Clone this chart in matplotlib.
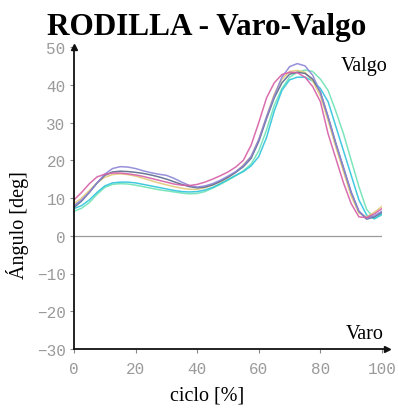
import matplotlib
matplotlib.use("Agg")
import matplotlib.pyplot as plt

cycle = [0, 2.5, 5, 7.5, 10, 12.5, 15, 17.5, 20, 22.5, 25, 27.5, 30, 32.5, 35, 37.5, 40,
         42.5, 45, 47.5, 50, 52.5, 55, 57.5, 60, 62.5, 65, 67.5, 70, 72.5, 75, 77.5, 80,
         82.5, 85, 87.5, 90, 92.5, 95, 97.5, 100]

magenta = [9.5, 11.5, 13.8, 15.6, 16.3, 16.6, 16.6, 16.4, 16.1, 15.7, 15.2, 14.7, 14.2, 13.7,
           13.4, 13.3, 13.6, 14.2, 15.0, 15.9, 16.9, 18.2, 20.0, 24.0, 30.0, 36.5, 40.5, 42.7,
           43.3, 43.2, 42.0, 39.5, 35.5, 27.0, 20.5, 14.0, 8.5, 5.0, 4.8, 5.8, 7.2]
purple = [8.0, 9.5, 11.5, 14.0, 16.3, 17.8, 18.3, 18.2, 17.8, 17.2, 16.7, 16.3, 16.0, 15.2,
          14.2, 13.3, 12.9, 13.2, 13.8, 14.7, 15.8, 17.0, 18.6, 21.0, 25.5, 31.5, 37.0, 42.0,
          44.8, 45.6, 45.0, 42.5, 38.0, 31.5, 24.5, 18.0, 11.5, 6.5, 4.6, 5.3, 6.5]
orange = [8.5, 10.0, 12.0, 14.0, 15.5, 16.2, 16.4, 16.2, 15.8, 15.2, 14.6, 14.0, 13.5, 13.0,
          12.6, 12.3, 12.3, 12.7, 13.4, 14.3, 15.4, 16.8, 18.8, 21.0, 25.5, 31.5, 37.5, 41.5,
          43.5, 43.8, 43.3, 41.0, 37.0, 30.5, 23.5, 17.0, 10.5, 6.0, 5.0, 6.2, 7.8]
cyan = [7.2, 8.0, 9.5, 11.5, 13.2, 14.0, 14.2, 14.2, 14.0, 13.6, 13.2, 12.8, 12.4, 12.0,
        11.7, 11.6, 11.7, 12.1, 12.8, 13.8, 14.9, 16.0, 17.0, 18.5, 21.0, 26.0, 33.0, 38.5,
        41.3, 42.0, 42.0, 41.0, 39.0, 35.5, 29.0, 22.5, 16.0, 9.5, 5.5, 4.5, 5.8]
mint = [6.5, 7.3, 8.8, 11.0, 12.8, 13.6, 13.8, 13.7, 13.4, 13.0, 12.6, 12.2, 11.9, 11.6,
        11.3, 11.1, 11.2, 11.7, 12.6, 13.6, 14.7, 15.9, 17.2, 19.0, 22.5, 28.0, 34.5, 39.0,
        42.0, 43.3, 43.9, 43.5, 41.5, 38.5, 33.0, 27.0, 20.0, 13.0, 7.0, 4.5, 5.5]
slate = [7.5, 9.2, 11.5, 14.0, 16.0, 16.9, 17.1, 17.0, 16.8, 16.5, 16.1, 15.6, 15.0, 14.3,
         13.6, 13.0, 12.7, 12.9, 13.5, 14.4, 15.5, 16.8, 18.3, 20.5, 25.0, 31.0, 36.5, 40.5,
         42.8, 43.3, 43.0, 41.5, 38.0, 31.5, 24.5, 18.0, 11.5, 6.5, 4.4, 5.0, 6.2]

series = [(mint, "#6fe3b4"), (cyan, "#2ec4dc"), (orange, "#e2c878"),
          (slate, "#5a6a8c"), (purple, "#8c84d6"), (magenta, "#d65fa6")]

x_ticks = [0, 20, 40, 60, 80, 100]
y_ticks = [-30, -20, -10, 0, 10, 20, 30, 40, 50]

W, H = 398, 410
fig = plt.figure(figsize=(W / 100, H / 100), dpi=100)
ax = fig.add_axes([74 / W, (H - 350) / H, 308 / W, (350 - 48) / H])

for vals, col in series:
    ax.plot(cycle, vals, color=col, lw=1.1, alpha=0.9, solid_capstyle="round")

ax.plot([0, 100], [0, 0], color="#9a9a9a", lw=0.9, zorder=1)

ax.set_xlim(0, 100)
ax.set_ylim(-30, 50)
for s in ["top", "right"]:
    ax.spines[s].set_visible(False)
ax.spines["bottom"].set_bounds(0, 101.5)
ax.spines["left"].set_bounds(-30, 50)
for s in ["left", "bottom"]:
    ax.spines[s].set_linewidth(1.3)
    ax.spines[s].set_color("#111111")
ax.plot(101.5, -30, marker=">", color="#111111", ms=4, clip_on=False)
ax.plot(0, 50, marker="^", color="#111111", ms=4, clip_on=False)

ax.set_xticks(x_ticks)
ax.set_yticks(y_ticks)
ax.tick_params(length=3, width=0.8, color="#888888", labelcolor="#9a9a9a",
               labelsize=11.5)
ax.tick_params(axis="x", pad=6)
ax.tick_params(axis="y", pad=3)
for lab in ax.get_xticklabels() + ax.get_yticklabels():
    lab.set_family("Liberation Mono")

serif = "Liberation Serif"
fig.text(207 / W, 1 - 27 / H, "RODILLA - Varo-Valgo", ha="center", va="center",
         family=serif, weight="bold", fontsize=22.5)
fig.text(18 / W, 1 - 225 / H, "Ángulo [deg]", rotation=90, ha="center", va="center",
         family=serif, fontsize=14.5)
fig.text(207 / W, 1 - 396 / H, "ciclo [%]", ha="center", va="center",
         family=serif, fontsize=14.5)
fig.text(388 / W, 1 - 66 / H, "Valgo", ha="right", va="center",
         family=serif, fontsize=14.5)
fig.text(384 / W, 1 - 335 / H, "Varo", ha="right", va="center",
         family=serif, fontsize=14.5)

fig.savefig("out.png", dpi=100)
